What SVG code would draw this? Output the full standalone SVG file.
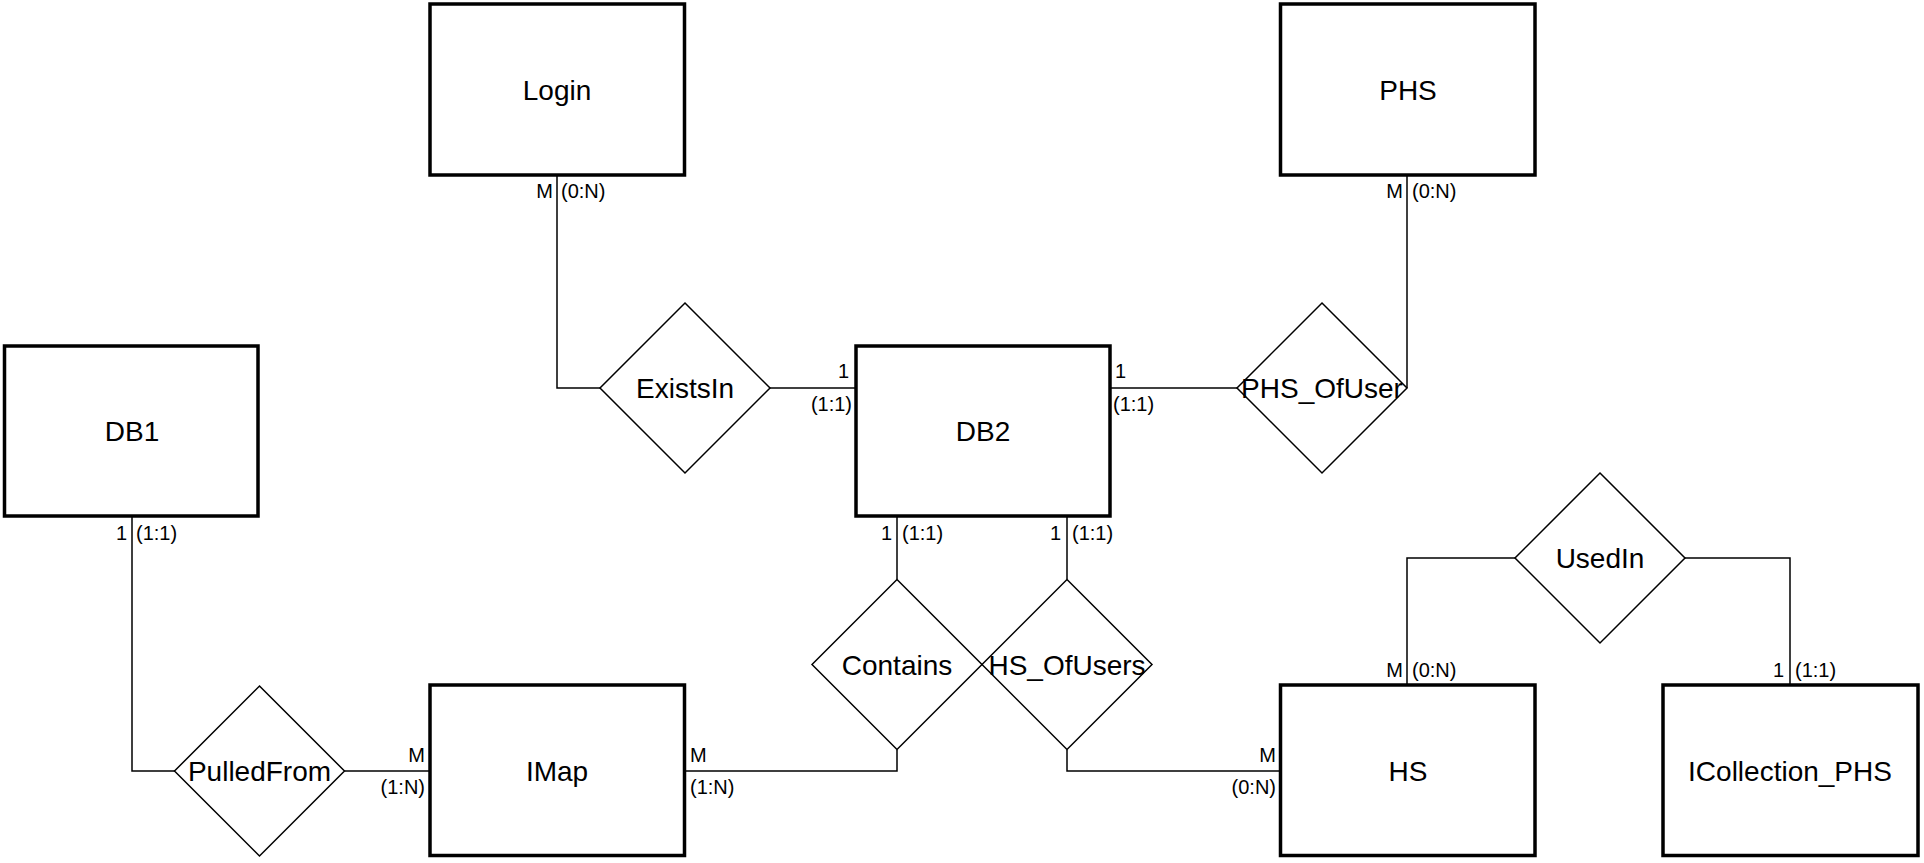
<svg xmlns="http://www.w3.org/2000/svg" width="1924" height="863" viewBox="0 0 1924 863">
<style>
.ent{fill:#fff;stroke:#000;stroke-width:3.5}
.rel{fill:none;stroke:#000;stroke-width:1.5}
.con{fill:none;stroke:#000;stroke-width:1.5}
.t{font-family:"Liberation Sans",Arial,sans-serif;font-size:28px;fill:#000;text-anchor:middle}
.l{font-family:"Liberation Sans",Arial,sans-serif;font-size:20px;fill:#000}
.e{text-anchor:end}
</style>
<rect width="1924" height="863" fill="#fff"/>
<g id="connectors">
<path class="con" d="M557,175 V388 H600"/>
<path class="con" d="M770,388 H856"/>
<path class="con" d="M1110,388 H1237"/>
<path class="con" d="M1407,175 V388"/>
<path class="con" d="M132,516 V771 H175"/>
<path class="con" d="M344.5,771 H430"/>
<path class="con" d="M684.5,771 H897 V749.5"/>
<path class="con" d="M897,516 V579.5"/>
<path class="con" d="M1067,516 V579.5"/>
<path class="con" d="M1067,749.5 V771 H1280.5"/>
<path class="con" d="M1407,685 V558 H1515"/>
<path class="con" d="M1685,558 H1790 V685"/>
</g>
<g id="labels">
<text class="l e" x="553" y="198">M</text><text class="l" x="561" y="198">(0:N)</text>
<text class="l e" x="1403" y="198">M</text><text class="l" x="1412" y="198">(0:N)</text>
<text class="l e" x="849" y="378">1</text><text class="l e" x="852" y="411">(1:1)</text>
<text class="l" x="1115" y="378">1</text><text class="l" x="1113" y="411">(1:1)</text>
<text class="l e" x="127" y="540">1</text><text class="l" x="136" y="540">(1:1)</text>
<text class="l e" x="892" y="540">1</text><text class="l" x="902" y="540">(1:1)</text>
<text class="l e" x="1061" y="540">1</text><text class="l" x="1072" y="540">(1:1)</text>
<text class="l e" x="425" y="762">M</text><text class="l e" x="425" y="794">(1:N)</text>
<text class="l" x="690" y="762">M</text><text class="l" x="690" y="794">(1:N)</text>
<text class="l e" x="1276" y="762">M</text><text class="l e" x="1276" y="794">(0:N)</text>
<text class="l e" x="1403" y="677">M</text><text class="l" x="1412" y="677">(0:N)</text>
<text class="l e" x="1784" y="677">1</text><text class="l" x="1795" y="677">(1:1)</text>
</g>
<g id="Login"><rect class="ent" x="430" y="4" width="254.5" height="171"/><text class="t" x="557" y="100">Login</text></g>
<g id="PHS"><rect class="ent" x="1280.5" y="4" width="254.5" height="171"/><text class="t" x="1408" y="100">PHS</text></g>
<g id="DB1"><rect class="ent" x="4.5" y="346" width="253.5" height="170"/><text class="t" x="132" y="441">DB1</text></g>
<g id="DB2"><rect class="ent" x="856" y="346" width="254" height="170"/><text class="t" x="983" y="441">DB2</text></g>
<g id="IMap"><rect class="ent" x="430" y="685" width="254.5" height="170.5"/><text class="t" x="557" y="781">IMap</text></g>
<g id="HS"><rect class="ent" x="1280.5" y="685" width="254.5" height="170.5"/><text class="t" x="1408" y="781">HS</text></g>
<g id="ICollection_PHS"><rect class="ent" x="1663" y="685" width="255" height="170.5"/><text class="t" x="1790" y="781">ICollection_PHS</text></g>
<g id="ExistsIn"><polygon class="rel" points="685,303 770,388 685,473 600,388"/><text class="t" x="685" y="398">ExistsIn</text></g>
<g id="PHS_OfUser"><polygon class="rel" points="1322,303 1407,388 1322,473 1237,388"/><text class="t" x="1322" y="398">PHS_OfUser</text></g>
<g id="PulledFrom"><polygon class="rel" points="259.5,686 344.5,771 259.5,856 174.5,771"/><text class="t" x="259.5" y="781">PulledFrom</text></g>
<g id="Contains"><polygon class="rel" points="897,579.5 982,664.5 897,749.5 812,664.5"/><text class="t" x="897" y="674.5">Contains</text></g>
<g id="HS_OfUsers"><polygon class="rel" points="1067,579.5 1152,664.5 1067,749.5 982,664.5"/><text class="t" x="1067" y="674.5">HS_OfUsers</text></g>
<g id="UsedIn"><polygon class="rel" points="1600,473 1685,558 1600,643 1515,558"/><text class="t" x="1600" y="568">UsedIn</text></g>
</svg>
